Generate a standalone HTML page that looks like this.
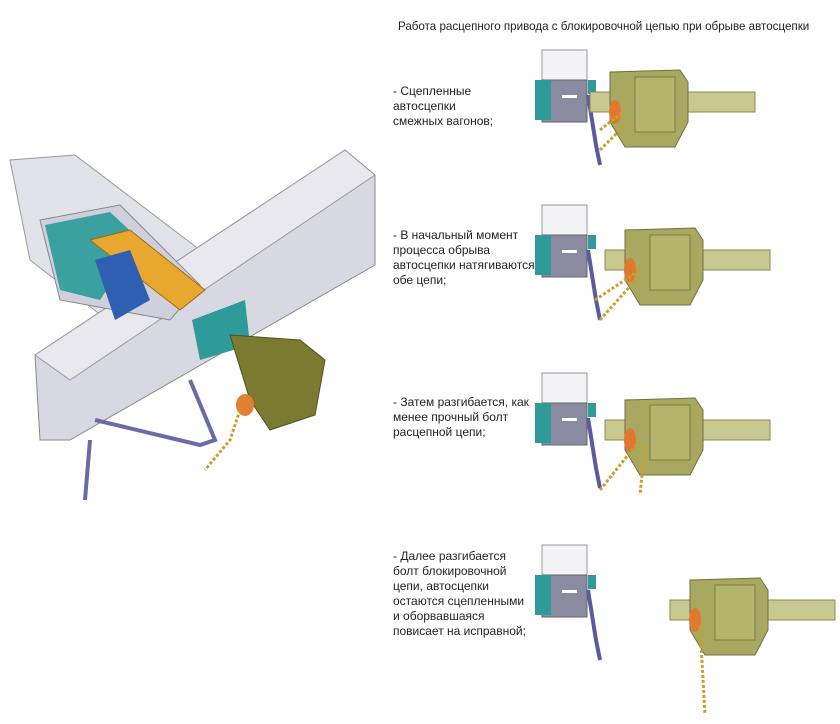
<!DOCTYPE html>
<html><head><meta charset="utf-8"><style>
body{margin:0;background:#fff;width:840px;height:724px;overflow:hidden;font-family:"Liberation Sans",sans-serif;}
.t{position:absolute;font-size:12px;line-height:15px;color:#222;}
</style></head><body>
<div class="t" style="left:398px;top:19px;font-size:11.6px;white-space:nowrap">Работа расцепного привода с блокировочной цепью при обрыве автосцепки</div>
<div class="t" style="left:393px;top:84px">- Сцепленные<br>автосцепки<br>смежных вагонов;</div>
<div class="t" style="left:393px;top:228px">- В начальный момент<br>процесса обрыва<br>автосцепки натягиваются<br>обе цепи;</div>
<div class="t" style="left:393px;top:395px">- Затем разгибается, как<br>менее прочный болт<br>расцепной цепи;</div>
<div class="t" style="left:393px;top:549px">- Далее разгибается<br>болт блокировочной<br>цепи, автосцепки<br>остаются сцепленными<br>и оборвавшаяся<br>повисает на исправной;</div>
<svg width="840" height="724" style="position:absolute;left:0;top:0">
<defs>
<g id="box">
<rect x="12" y="0" width="45" height="32" fill="#f4f4f6" stroke="#999"/>
<rect x="12" y="30" width="45" height="42" fill="#8a8aa0" stroke="#666"/>
<rect x="5" y="30" width="16" height="40" fill="#2f9a9a"/>
<rect x="58" y="30" width="8" height="14" fill="#2f9a9a"/>
<rect x="32" y="45" width="15" height="3" fill="#fff"/>
<path d="M58 45 L66 95 L70 115" stroke="#5a5aa0" stroke-width="4" fill="none"/>
</g>
<g id="cpl">
<rect x="0" y="20" width="165" height="20" fill="#c8c890" stroke="#8a8a50"/>
<path d="M20 0 L90 -2 L98 10 L98 50 L85 75 L35 75 L20 50 Z" fill="#a8a860" stroke="#707040"/>
<rect x="45" y="5" width="40" height="55" fill="#b8b870" stroke="#707040" opacity=".8"/>
<ellipse cx="25" cy="40" rx="6" ry="12" fill="#e07830"/>
</g>
</defs>
<polygon points="10,160 75,155 200,250 200,330 120,330 30,260" fill="#e2e2ea" stroke="#999"/>
<polygon points="35,355 345,150 375,175 375,265 70,440 40,440" fill="#d8d8e2" stroke="#888"/>
<polygon points="35,355 345,150 375,175 70,380" fill="#e8e8ee" stroke="#999"/>
<polygon points="40,220 120,205 200,285 170,320 60,300" fill="#cfd0dc" stroke="#888"/>
<polygon points="45,225 110,212 140,240 100,300 60,290" fill="#3aa0a0"/>
<polygon points="90,240 130,230 205,290 180,310" fill="#e8a830" stroke="#a06a10"/>
<polygon points="95,260 130,250 150,300 115,320" fill="#2f5fb0"/>
<polygon points="192,320 245,300 250,345 200,360" fill="#2f9a9a"/>
<polygon points="230,335 300,340 325,360 315,415 270,430 250,400" fill="#7a7a30" stroke="#505020"/>
<ellipse cx="245" cy="405" rx="9" ry="11" fill="#e08030"/>
<path d="M240 410 L230 440 L205 470" stroke="#c8a030" stroke-width="3" fill="none" stroke-dasharray="3 2"/>
<path d="M90 440 L85 500 M95 420 L200 445 L215 440 L190 380" stroke="#6a6aa8" stroke-width="4" fill="none"/>
<use href="#box" x="530" y="50"/><use href="#cpl" x="590" y="72"/>
<use href="#box" x="530" y="205"/><use href="#cpl" x="605" y="230"/>
<use href="#box" x="530" y="373"/><use href="#cpl" x="605" y="400"/>
<use href="#box" x="530" y="545"/><use href="#cpl" x="670" y="580"/>
<path d="M600 130 L625 110 M600 150 L630 120" stroke="#c8a030" stroke-width="3" stroke-dasharray="3 2"/>
<path d="M595 300 L640 270 M600 320 L640 275" stroke="#c8a030" stroke-width="3" stroke-dasharray="3 2"/>
<path d="M600 490 L640 440 M645 445 L640 495" stroke="#c8a030" stroke-width="3" stroke-dasharray="3 2"/>
<path d="M700 625 L705 715" stroke="#c8a030" stroke-width="3" stroke-dasharray="3 2"/>
</svg>
</body></html>
